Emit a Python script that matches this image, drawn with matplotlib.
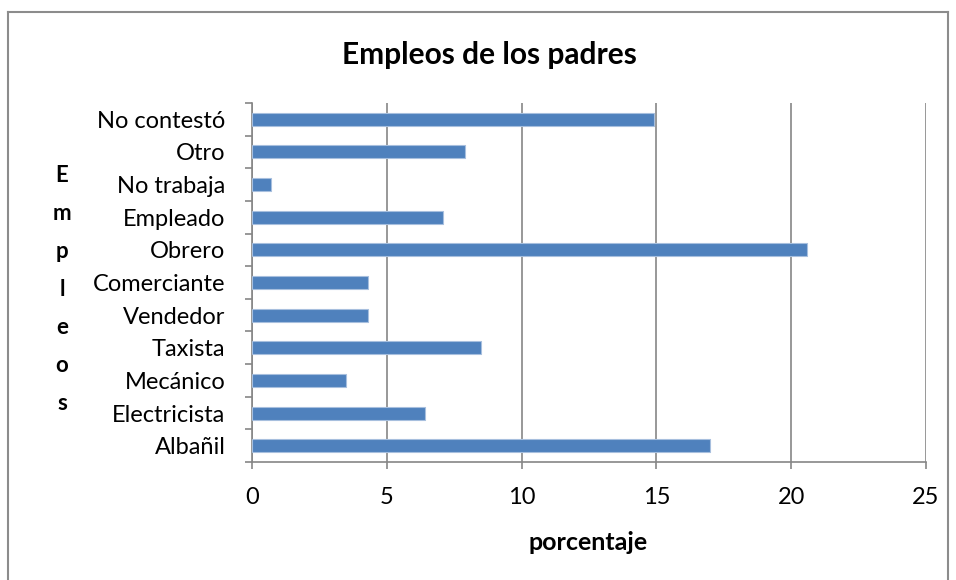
import matplotlib.pyplot as plt
from matplotlib.lines import Line2D

# --- Data ---
empleos = ['Albañil', 'Electricista', 'Mecánico', 'Taxista', 'Vendedor',
           'Comerciante', 'Obrero', 'Empleado', 'No trabaja', 'Otro', 'No contestó']
porcentaje = [17.0, 6.4, 3.5, 8.5, 4.3, 4.3, 20.6, 7.1, 0.7, 7.9, 14.9]
xticks = [0, 5, 10, 15, 20, 25]

plt.rcParams['font.family'] = ['Lato', 'DejaVu Sans']

fig = plt.figure(figsize=(9.56, 5.80), dpi=100)
ax = fig.add_axes([252 / 956, 1 - 462 / 580, (926 - 252) / 956, (462 - 103) / 580])

ypos = list(range(len(empleos)))
ax.barh(ypos, porcentaje, height=0.4, color='#4F81BD', edgecolor='#A7BFDE',
        linewidth=0.8, zorder=3)

ax.set_xlim(0, 25)
ax.set_ylim(-0.5, len(empleos) - 0.5)
ax.set_xticks(xticks)
ax.set_xticklabels([str(t) for t in xticks], fontsize=17)
ax.tick_params(axis='x', length=5, color='#868686', width=1.2, pad=13)

# category labels in the middle, tick marks between categories
ax.set_yticks(ypos)
ax.set_yticklabels(empleos, fontsize=17)
ax.tick_params(axis='y', which='major', length=0, pad=19)
ax.set_yticks([y - 0.5 for y in range(len(empleos) + 1)], minor=True)
ax.tick_params(axis='y', which='minor', length=5, color='#868686', width=1.2)

ax.grid(axis='x', color='#868686', linewidth=1.2, zorder=0)
for side in ['top', 'right']:
    ax.spines[side].set_visible(False)
for side in ['left', 'bottom']:
    ax.spines[side].set_color('#868686')
    ax.spines[side].set_linewidth(1.2)

fig.text(489 / 956, 1 - 55 / 580, 'Empleos de los padres', ha='center',
         va='center', fontsize=21.5, fontweight='bold')
fig.text(588 / 956, 1 - 542 / 580, 'porcentaje', ha='center', va='center',
         fontsize=18, fontweight='bold')
fig.text(62 / 956, 1 - 289 / 580, '\n'.join('Empleos'), ha='center', va='center',
         fontsize=16, fontweight='bold', linespacing=2.0)

# chart border
bc = '#8C8C8C'
fig.add_artist(Line2D([8 / 956, 8 / 956], [0, 1 - 12 / 580], transform=fig.transFigure, color=bc, lw=1.5))
fig.add_artist(Line2D([8 / 956, 948 / 956], [1 - 12 / 580, 1 - 12 / 580], transform=fig.transFigure, color=bc, lw=1.5))
fig.add_artist(Line2D([948 / 956, 948 / 956], [0, 1 - 12 / 580], transform=fig.transFigure, color=bc, lw=1.5))

fig.savefig('out.png', dpi=100)
